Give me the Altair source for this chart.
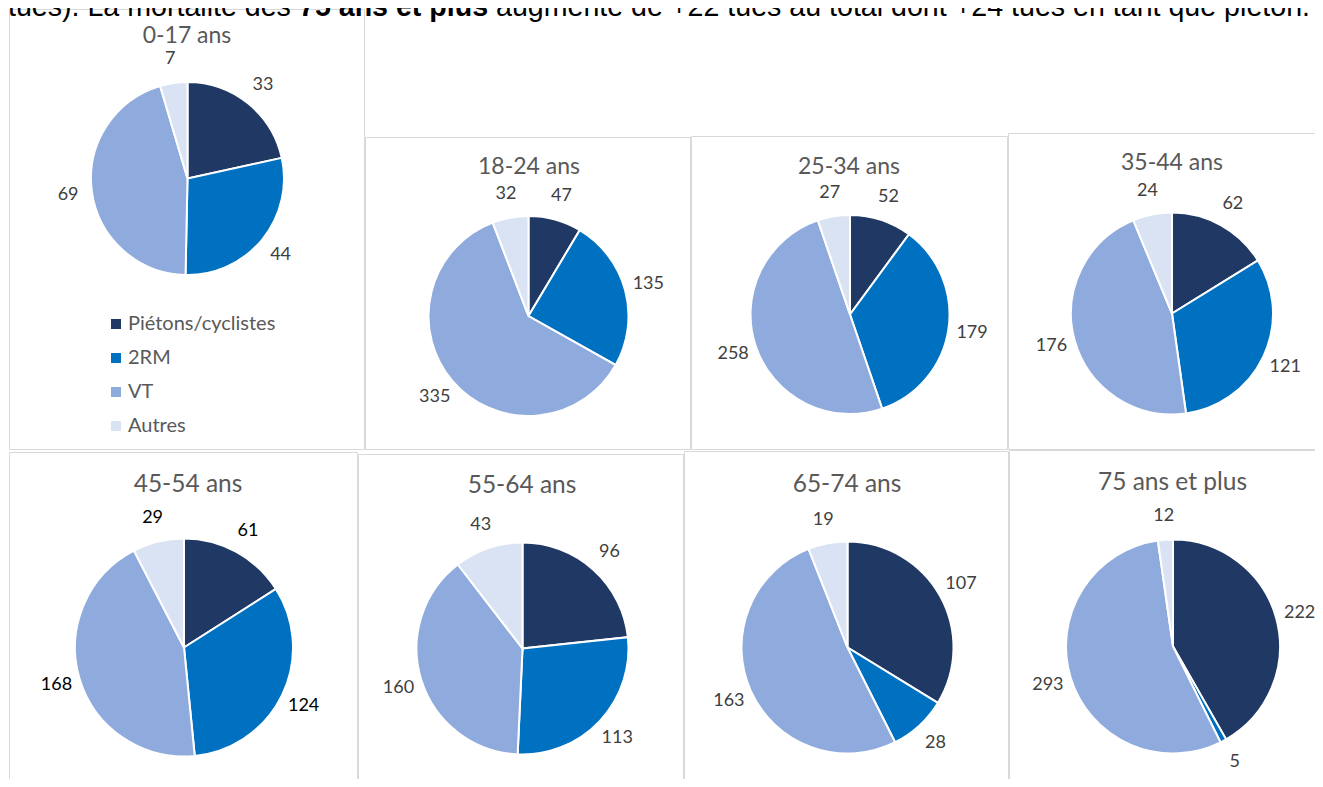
import altair as alt
import pandas as pd

# ---- data ----
groups = ["0-17 ans", "18-24 ans", "25-34 ans", "35-44 ans",
          "45-54 ans", "55-64 ans", "65-74 ans", "75 ans et plus"]
cats = ["Piétons/cyclistes", "2RM", "VT", "Autres"]
pietons = [33, 47, 52, 62, 61, 96, 107, 222]
deux_rm = [44, 135, 179, 121, 124, 113, 28, 5]
vt = [69, 335, 258, 176, 168, 160, 163, 293]
autres = [7, 32, 27, 24, 29, 43, 19, 12]
colors = ["#203864", "#0070C0", "#8FAADC", "#DAE3F3"]

intro_a = "tués). La mortalité des"
intro_b = "75 ans et plus"
intro_c = "augmente de +22 tués au total dont +24 tués en tant que piéton."

# ---- layout: cell size, border box, pie centre & radius, title pos/size, label colour ----
col_w = [349, 326, 324, 316]
row_h = [441, 340]
layouts = [
    dict(bx0=0, bx1=356, bt=0, cx=178.5, cy=169.5, r=96.5, tx=178, ty=34, ts=23, lc="#404040"),
    dict(bx0=7, bx1=333, bt=128, cx=170.5, cy=307, r=100, tx=171, ty=165, ts=23, lc="#404040"),
    dict(bx0=7, bx1=324, bt=127, cx=166, cy=305.5, r=99.5, tx=165, ty=165, ts=23, lc="#404040"),
    dict(bx0=0, bx1=316, bt=124, cx=164, cy=304.5, r=101, tx=164, ty=161, ts=23, lc="#404040"),
    dict(bx0=0, bx1=349, bt=2, cx=175, cy=197.5, r=109, tx=179, ty=42, ts=24.5, lc="#000000"),
    dict(bx0=0, bx1=326, bt=4, cx=164.5, cy=198.5, r=106, tx=164, ty=43, ts=24.5, lc="#404040"),
    dict(bx0=0, bx1=325, bt=1, cx=163.5, cy=197.5, r=106, tx=163, ty=42, ts=24.5, lc="#404040"),
    dict(bx0=1, bx1=316, bt=0, cx=165, cy=196.5, r=107, tx=164.5, ty=40, ts=24.5, lc="#404040"),
]

legend = alt.Legend(
    orient="none", legendX=97, legendY=305, title=None,
    symbolType="square", symbolSize=100, symbolStrokeWidth=0,
    labelFont="Lato", labelFontSize=20, labelColor="#595959",
    labelOffset=2, rowPadding=14, padding=0,
)


def panel(i, L, intro=False):
    w = col_w[i % 4]
    h = row_h[i // 4]
    df = pd.DataFrame({
        "cat": cats,
        "idx": list(range(4)),
        "val": [pietons[i], deux_rm[i], vt[i], autres[i]],
    })
    one = pd.DataFrame({"g": [groups[i]]})

    border = alt.Chart(one).mark_rect(
        fill="white", fillOpacity=0, stroke="#d9d9d9", strokeWidth=1
    ).encode(
        x=alt.value(L["bx0"] + 0.5), x2=alt.value(L["bx1"] - 0.5),
        y=alt.value(L["bt"] + 0.5), y2=alt.value(h - 0.5),
    )
    title = alt.Chart(one).mark_text(
        align="center", baseline="alphabetic", font="Lato",
        fontSize=L["ts"], color="#595959",
    ).encode(text="g:N", x=alt.value(L["tx"]), y=alt.value(L["ty"]))

    base = alt.Chart(df)
    arcs = base.mark_arc(radius=L["r"], stroke="white", strokeWidth=2).encode(
        theta=alt.Theta("val:Q", stack=True),
        color=alt.Color("cat:N", scale=alt.Scale(domain=cats, range=colors), legend=legend),
        order=alt.Order("idx:Q"),
        x=alt.value(L["cx"]), y=alt.value(L["cy"]),
        tooltip=["cat:N", "val:Q"],
    )
    labels = base.mark_text(
        radius=L["r"] + 24, font="Lato", fontSize=18, color=L["lc"],
        align="center", baseline="middle",
    ).encode(
        theta=alt.Theta("val:Q", stack=True),
        order=alt.Order("idx:Q"),
        text="val:Q",
        x=alt.value(L["cx"]), y=alt.value(L["cy"]),
    )
    layers = [border, title, arcs, labels]
    if intro:
        introdf = pd.DataFrame({"a": [intro_a], "b": [intro_b], "c": [intro_c]})
        ib = alt.Chart(introdf)
        common = dict(align="left", baseline="alphabetic", font="Liberation Sans",
                      fontSize=28.6, color="#000000")
        layers += [
            ib.mark_text(**common).encode(text="a:N", x=alt.value(-1), y=alt.value(7)),
            ib.mark_text(fontWeight="bold", **common).encode(text="b:N", x=alt.value(290), y=alt.value(7)),
            ib.mark_text(**common).encode(text="c:N", x=alt.value(487), y=alt.value(7)),
        ]
    return alt.layer(*layers).properties(width=w, height=h)


chart = alt.concat(
    *[panel(i, L, intro=(i == 0)) for i, L in enumerate(layouts)],
    columns=4, spacing=0, bounds="flush",
).resolve_scale(
    theta="independent"
).properties(
    padding={"left": 0, "top": -15, "right": -9, "bottom": -11},
    background="white",
).configure_view(strokeWidth=0)

chart.save("out.html", embed_options={"renderer": "svg", "actions": False})
